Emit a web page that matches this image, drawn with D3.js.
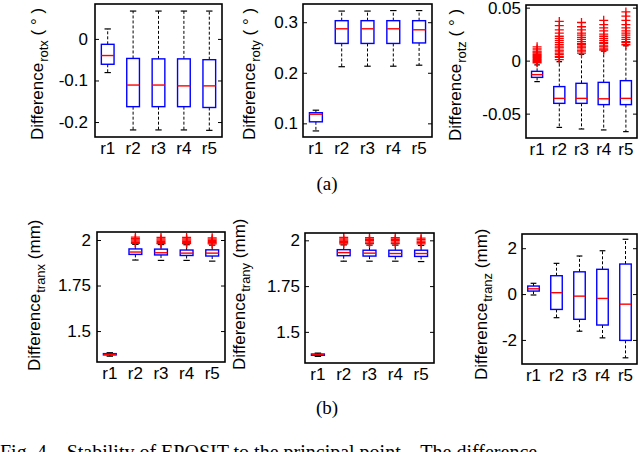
<!DOCTYPE html>
<html>
<head>
<meta charset="utf-8">
<script src="https://cdn.jsdelivr.net/npm/d3@7"></script>
<style>
  body { margin: 0; background: #fff; }
  svg { display: block; }
  text { font-family: "Liberation Sans", Arial, sans-serif; fill: #000; }
  .cap { font-family: "Liberation Serif", "Times New Roman", serif; }
</style>
</head>
<body>
<svg id="fig" width="640" height="452"></svg>
<script>
var categories = ["r1", "r2", "r3", "r4", "r5"];

// five-number summaries per run: [lower whisker, q1, median, q3, upper whisker]
var rotxStats = [
  [-0.081, -0.061, -0.040, -0.013, 0.024],
  [-0.219, -0.163, -0.111, -0.047, 0.067],
  [-0.219, -0.163, -0.111, -0.048, 0.067],
  [-0.219, -0.163, -0.113, -0.048, 0.067],
  [-0.220, -0.165, -0.113, -0.050, 0.067]
];
var rotyStats = [
  [0.085, 0.103, 0.118, 0.121, 0.126],
  [0.212, 0.258, 0.287, 0.303, 0.322],
  [0.213, 0.258, 0.287, 0.303, 0.322],
  [0.213, 0.258, 0.287, 0.303, 0.323],
  [0.215, 0.259, 0.285, 0.303, 0.323]
];
var rotzStats = [
  [-0.0198, -0.0158, -0.0132, -0.0101, -0.004],
  [-0.063, -0.0403, -0.0356, -0.0245, -0.001],
  [-0.0645, -0.0403, -0.0356, -0.0214, 0.006],
  [-0.0654, -0.0415, -0.036, -0.0205, 0.009],
  [-0.067, -0.0415, -0.0356, -0.0189, 0.014]
];
var tranxStats = [
  [1.362, 1.369, 1.372, 1.376, 1.381],
  [1.890, 1.921, 1.934, 1.951, 1.976],
  [1.888, 1.918, 1.930, 1.950, 1.975],
  [1.888, 1.915, 1.928, 1.945, 1.974],
  [1.884, 1.912, 1.928, 1.946, 1.972]
];
var tranyStats = [
  [1.366, 1.372, 1.375, 1.379, 1.384],
  [1.886, 1.916, 1.933, 1.949, 1.975],
  [1.886, 1.914, 1.930, 1.946, 1.974],
  [1.886, 1.912, 1.928, 1.946, 1.974],
  [1.884, 1.912, 1.928, 1.946, 1.972]
];
var tranzStats = [
  [-0.04, 0.13, 0.23, 0.35, 0.47],
  [-1.03, -0.67, 0.06, 0.80, 1.34],
  [-1.62, -1.10, -0.09, 0.97, 1.66],
  [-1.91, -1.35, -0.19, 1.08, 1.89],
  [-2.78, -2.02, -0.44, 1.31, 2.39]
];

// outliers (red +), one list per run
var rotzOutliers = [
  [0.013, 0.011, 0.009, 0.008, 0.007, 0.006, 0.005, 0.004, 0.003, 0.002, 0.001, 0.0, -0.001, -0.002],
  [0.037, 0.033, 0.029, 0.026, 0.023, 0.021, 0.019, 0.017, 0.015, 0.013, 0.012, 0.010, 0.009, 0.007, 0.006, 0.004, 0.003, 0.001],
  [0.036, 0.032, 0.029, 0.026, 0.024, 0.022, 0.020, 0.018, 0.016, 0.015, 0.013, 0.012, 0.010, 0.009, 0.007],
  [0.038, 0.034, 0.031, 0.028, 0.025, 0.023, 0.021, 0.019, 0.017, 0.016, 0.014, 0.013, 0.011, 0.010],
  [0.046, 0.042, 0.038, 0.034, 0.031, 0.028, 0.026, 0.024, 0.022, 0.020, 0.018, 0.017, 0.015]
];
var tranxOutliers = [
  [],
  [2.016, 2.008, 2.001, 1.994, 1.987, 1.981],
  [2.014, 2.006, 1.999, 1.992, 1.985, 1.980],
  [2.014, 2.006, 1.999, 1.992, 1.985, 1.980],
  [2.012, 2.005, 1.998, 1.991, 1.985, 1.979]
];
var tranyOutliers = [
  [],
  [2.016, 2.008, 2.001, 1.994, 1.987, 1.981],
  [2.014, 2.006, 1.998, 1.990, 1.982],
  [2.014, 2.006, 1.998, 1.990, 1.982],
  [2.012, 2.004, 1.996, 1.988, 1.981]
];

// tick values and their labels
var rotxTicks = [-0.2, -0.1, 0],        rotxTickLabels = ["-0.2", "-0.1", "0"];
var rotyTicks = [0.1, 0.2, 0.3],        rotyTickLabels = ["0.1", "0.2", "0.3"];
var rotzTicks = [-0.05, 0, 0.05],       rotzTickLabels = ["-0.05", "0", "0.05"];
var tranTicks = [1.5, 1.75, 2],         tranTickLabels = ["1.5", "1.75", "2"];
var tranzTicks = [-2, 0, 2],            tranzTickLabels = ["-2", "0", "2"];

var svg = d3.select("#fig");

// panel frames (pixels) and axis ranges
var panels = [
  { stats: rotxStats, out: null, ticks: rotxTicks, tl: rotxTickLabels, dom: [-0.236, 0.084],
    sub: "rotx", unit: " ( \u00b0 )", x: 95, y: 4, w: 127, h: 133, lx: 43, ly: 140, pad: 7 },
  { stats: rotyStats, out: null, ticks: rotyTicks, tl: rotyTickLabels, dom: [0.073, 0.336],
    sub: "roty", unit: " ( \u00b0 )", x: 303, y: 4, w: 129, h: 133, lx: 255, ly: 140, pad: 5 },
  { stats: rotzStats, out: rotzOutliers, ticks: rotzTicks, tl: rotzTickLabels, dom: [-0.073, 0.0525],
    sub: "rotz", unit: " ( \u00b0 )", x: 526, y: 5, w: 111, h: 133, lx: 461, ly: 141, pad: 5 },
  { stats: tranxStats, out: tranxOutliers, ticks: tranTicks, tl: tranTickLabels, dom: [1.33, 2.044],
    sub: "tranx", unit: " (mm)", x: 97, y: 232, w: 128, h: 130, lx: 40, ly: 371, pad: 6 },
  { stats: tranyStats, out: tranyOutliers, ticks: tranTicks, tl: tranTickLabels, dom: [1.33, 2.04],
    sub: "trany", unit: " (mm)", x: 305, y: 233, w: 129, h: 130, lx: 245, ly: 370, pad: 5 },
  { stats: tranzStats, out: null, ticks: tranzTicks, tl: tranzTickLabels, dom: [-3.05, 2.62],
    sub: "tranz", unit: " (mm)", x: 522, y: 234, w: 115, h: 130, lx: 487, ly: 380, pad: 5 }
];

panels.forEach(function(p) {
  var g = svg.append("g").attr("transform", "translate(" + p.x + "," + p.y + ")");

  var xScale = d3.scaleBand().domain(categories).range([0, p.w]).padding(0);
  var yScale = d3.scaleLinear().domain(p.dom).range([p.h, 0]);
  var bw = xScale.bandwidth();

  // left axis with inward ticks
  var yAxis = d3.axisLeft(yScale).tickValues(p.ticks)
    .tickFormat(function(d, i) { return p.tl[i]; })
    .tickSizeInner(-4).tickSizeOuter(0).tickPadding(p.pad);
  var ya = g.append("g").call(yAxis);
  ya.select(".domain").remove();
  ya.selectAll("text").attr("font-size", 17).attr("font-family", null);
  ya.selectAll("line").attr("stroke-width", 1);

  // right side ticks (box on)
  var yr = g.append("g").attr("transform", "translate(" + p.w + ",0)")
    .call(d3.axisRight(yScale).tickValues(p.ticks).tickSizeInner(-4).tickSizeOuter(0).tickFormat(""));
  yr.select(".domain").remove();

  // category labels
  var xa = g.append("g").attr("transform", "translate(0," + p.h + ")")
    .call(d3.axisBottom(xScale).tickSize(0).tickPadding(5));
  xa.select(".domain").remove();
  xa.selectAll("text").attr("font-size", 17).attr("font-family", null);

  var boxes = g.selectAll(".bx").data(p.stats).enter().append("g")
    .attr("transform", function(d, i) { return "translate(" + (xScale(categories[i]) + bw / 2) + ",0)"; });

  // whiskers
  boxes.append("line").attr("x1", 0).attr("x2", 0)
    .attr("y1", function(d) { return yScale(d[3]); }).attr("y2", function(d) { return yScale(d[4]); })
    .attr("stroke", "#000").attr("stroke-width", 1).attr("stroke-dasharray", "3,2");
  boxes.append("line").attr("x1", 0).attr("x2", 0)
    .attr("y1", function(d) { return yScale(d[1]); }).attr("y2", function(d) { return yScale(d[0]); })
    .attr("stroke", "#000").attr("stroke-width", 1).attr("stroke-dasharray", "3,2");
  [0, 4].forEach(function(k) {
    boxes.append("line").attr("x1", -bw * 0.125).attr("x2", bw * 0.125)
      .attr("y1", function(d) { return yScale(d[k]); }).attr("y2", function(d) { return yScale(d[k]); })
      .attr("stroke", "#000").attr("stroke-width", 1.2);
  });

  // box
  boxes.append("rect").attr("x", -bw * 0.25).attr("width", bw * 0.5)
    .attr("y", function(d) { return yScale(d[3]); })
    .attr("height", function(d) { return Math.max(yScale(d[1]) - yScale(d[3]), 1); })
    .attr("fill", "none").attr("stroke", "#0000ff").attr("stroke-width", 1.4);

  // median
  boxes.append("line").attr("x1", -bw * 0.25).attr("x2", bw * 0.25)
    .attr("y1", function(d) { return yScale(d[2]); }).attr("y2", function(d) { return yScale(d[2]); })
    .attr("stroke", "#ff0000").attr("stroke-width", 1.4);

  // outliers
  if (p.out) {
    p.out.forEach(function(list, i) {
      g.selectAll(".o" + i).data(list).enter().append("path")
        .attr("d", "M-4.5,0H4.5M0,-4.5V4.5")
        .attr("transform", function(v) { return "translate(" + (xScale(categories[i]) + bw / 2) + "," + yScale(v) + ")"; })
        .attr("stroke", "#ff0000").attr("stroke-width", 1.3).attr("fill", "none");
    });
  }

  // frame
  g.append("rect").attr("width", p.w).attr("height", p.h)
    .attr("fill", "none").attr("stroke", "#000").attr("stroke-width", 1.6);

  // y label with subscript
  var lab = svg.append("text")
    .attr("transform", "translate(" + p.lx + "," + p.ly + ") rotate(-90)")
    .attr("font-size", 17);
  lab.append("tspan").text("Difference");
  lab.append("tspan").attr("font-size", 13).attr("dy", 5).attr("dx", 1).text(p.sub);
  lab.append("tspan").attr("dy", -5).text(p.unit);
});

// sub-figure captions
svg.append("text").attr("class", "cap").attr("x", 327).attr("y", 190)
  .attr("text-anchor", "middle").attr("font-size", 19).text("(a)");
svg.append("text").attr("class", "cap").attr("x", 327).attr("y", 414)
  .attr("text-anchor", "middle").attr("font-size", 19).text("(b)");
svg.append("text").attr("class", "cap").attr("x", 0).attr("y", 459)
  .attr("font-size", 20).attr("xml:space", "preserve")
  .text("Fig. 4.   Stability of EPOSIT to the principal point.   The difference");
</script>
</body>
</html>
